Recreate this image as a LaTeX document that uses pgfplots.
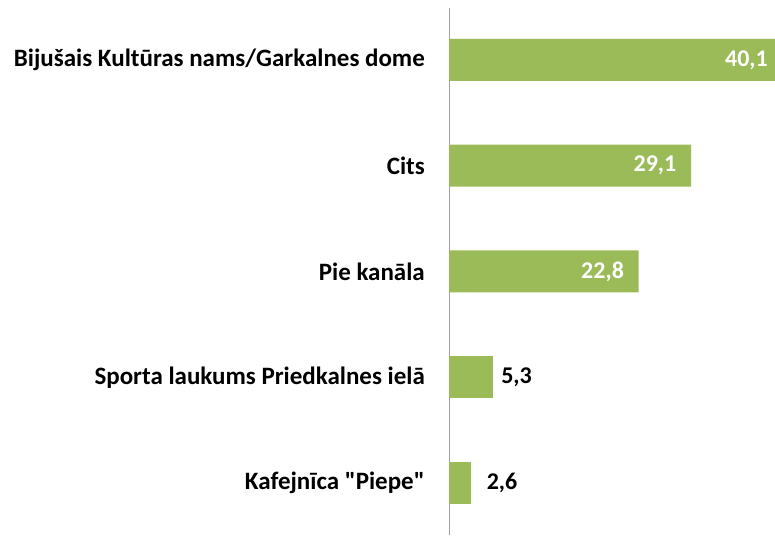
\documentclass[border=0pt]{standalone}
\usepackage{pgfplots}
\pgfplotsset{compat=1.18}
\usepackage{fontspec}
\setmainfont{Carlito}
\definecolor{bargreen}{HTML}{9BBB59}
\definecolor{axgray}{HTML}{A0A0A0}
\begin{document}
\begin{tikzpicture}[x=1pt,y=1pt]
\path[use as bounding box] (0,0) rectangle (775,535);
\begin{axis}[
  at={(449pt,0pt)}, anchor=south west,
  scale only axis, width=326pt, height=527pt,
  xmin=0, xmax=39.2, ymin=-0.49, ymax=4.49,
  axis x line=none, axis y line=left,
  y axis line style={-, axgray, line width=1pt},
  ytick={0,1,2,3,4}, major tick length=0pt,
  yticklabels={{Kafejnīca \textquotedbl Piepe\textquotedbl},{Sporta laukums Priedkalnes ielā},{Pie kanāla},{Cits},{Bijušais Kultūras nams/Garkalnes dome}},
  yticklabel style={font=\fontsize{25}{30}\selectfont\bfseries, text=black, inner sep=0pt, xshift=-24pt},
  xbar, bar width=42pt, bar shift=0pt,
  clip=false,
  /pgf/number format/assume math mode=true,
  /pgf/number format/use comma,
  /pgf/number format/fixed,
  /pgf/number format/fixed zerofill,
  /pgf/number format/precision=1,
  nodes near coords,
  nodes near coords style={font=\fontsize{24}{29}\selectfont\bfseries},
]
\addplot[fill=bargreen, draw=none, nodes near coords style={anchor=east, inner sep=0pt, xshift=-14.5pt, text=white}]
  coordinates {(40.1,4) (29.1,3) (22.8,2)};
\addplot[fill=bargreen, draw=none, nodes near coords style={anchor=west, inner sep=0pt, xshift=8pt, text=black}]
  coordinates {(5.3,1)};
\addplot[fill=bargreen, draw=none, nodes near coords style={anchor=west, inner sep=0pt, xshift=16pt, text=black}]
  coordinates {(2.6,0)};
\end{axis}
\end{tikzpicture}
\end{document}
